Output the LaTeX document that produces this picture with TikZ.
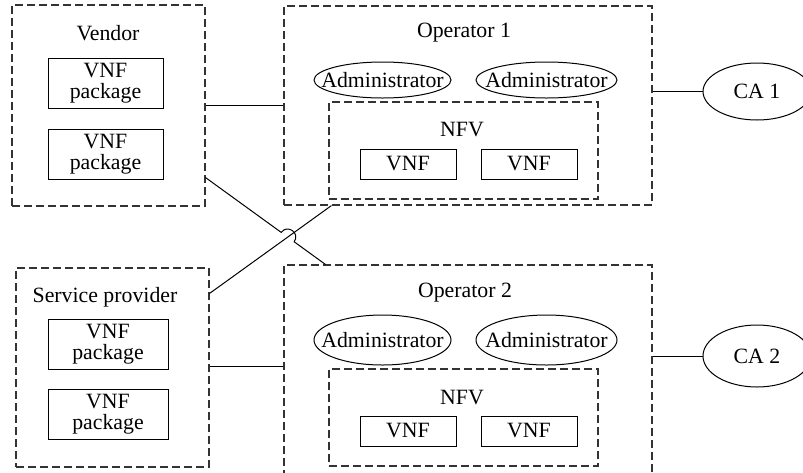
\documentclass[tikz,border=0pt]{standalone}
\usepackage{fontspec}
\setmainfont{Liberation Serif}
\usetikzlibrary{shapes.geometric,calc}
\begin{document}
\begin{tikzpicture}[x=0.5pt,y=-0.5pt,
  font=\fontsize{10.9}{12.6}\selectfont,
  dbox/.style={draw=black!80,line width=0.6pt,dash pattern=on 4pt off 2pt,rectangle,inner sep=0pt},
  sbox/.style={draw,line width=0.5pt,rectangle,inner sep=0pt,align=center},
  ell/.style={draw,line width=0.5pt,ellipse,inner sep=0pt},
  lbl/.style={inner sep=0pt},
  conn/.style={draw,line width=0.5pt}]
\useasboundingbox (0,0) rectangle (803,472);
% Vendor
\node[dbox,minimum width=96.5pt,minimum height=100.5pt] (vendor) at (108.5,105.5) {};
\node[lbl] (vendortxt) at (108,33) {Vendor};
\node[sbox,minimum width=57.5pt,minimum height=25pt] (vp1) at (105.5,83) {VNF\\[-2pt]package};
\node[sbox,minimum width=57.5pt,minimum height=25pt] (vp2) at (105.5,154) {VNF\\[-2pt]package};
% Operator 1
\node[dbox,minimum width=184pt,minimum height=99.5pt] (op1) at (468,105.5) {};
\node[lbl] (op1txt) at (464,33) {Operator 1};
\node[ell,minimum width=68.5pt,minimum height=18pt] (a11) at (382.5,80) {};
\node[lbl] (a11t) at (a11) {Administrator};
\node[ell,minimum width=70.5pt,minimum height=18pt] (a12) at (546.5,80) {};
\node[lbl] (a12t) at (a12) {Administrator};
\node[dbox,minimum width=134.5pt,minimum height=48.5pt] (nfv1) at (463.5,150.5) {};
\node[lbl] (nfv1txt) at (462,130) {NFV};
\node[sbox,minimum width=48pt,minimum height=15pt] (v11) at (408,164) {VNF};
\node[sbox,minimum width=48pt,minimum height=15pt] (v12) at (529,164) {VNF};
\node[ell,minimum width=54pt,minimum height=28.5pt] (ca1) at (757,91.5) {CA 1};
% Service provider
\node[dbox,minimum width=96.5pt,minimum height=99.5pt] (sp) at (112.5,367.5) {};
\node[lbl] (sptxt) at (105,297) {Service provider};
\node[sbox,minimum width=60pt,minimum height=25pt] (sp1) at (108,344) {VNF\\[-2pt]package};
\node[sbox,minimum width=60pt,minimum height=25pt] (sp2) at (108,414) {VNF\\[-2pt]package};
% Operator 2
\node[dbox,minimum width=184pt,minimum height=105.5pt] (op2) at (468,370.5) {};
\node[lbl] (op2txt) at (465,293) {Operator 2};
\node[ell,minimum width=68.5pt,minimum height=25pt] (a21) at (382.5,340) {};
\node[lbl] (a21t) at (a21) {Administrator};
\node[ell,minimum width=70.5pt,minimum height=25pt] (a22) at (546.5,340) {};
\node[lbl] (a22t) at (a22) {Administrator};
\node[dbox,minimum width=134.5pt,minimum height=48.5pt] (nfv2) at (463.5,417.5) {};
\node[lbl] (nfv2txt) at (462,398) {NFV};
\node[sbox,minimum width=48pt,minimum height=15pt] (v21) at (408,431) {VNF};
\node[sbox,minimum width=48pt,minimum height=15pt] (v22) at (529,431) {VNF};
\node[ell,minimum width=54pt,minimum height=31pt] (ca2) at (757,356) {CA 2};
% connectors
\draw[conn] (vendor.east) -- (op1.west);
\draw[conn] (sp.east |- 0,366) -- (op2.west |- 0,366);
\draw[conn] (ca1.west) -- (ca1.west -| op1.east);
\draw[conn] (ca2.west) -- (ca2.west -| op2.east);
% crossing lines
\coordinate (A1) at ($(vendor.south east)+(0,-29)$);
\coordinate (A2) at ($(op2.north west)+(42,0)$);
\coordinate (B1) at ($(sp.north east)+(0,26)$);
\coordinate (B2) at ($(op1.south west)+(48,0)$);
\coordinate (X) at (intersection of A1--A2 and B1--B2);
\coordinate (h1) at ($(X)!4pt!(A1)$);
\coordinate (h2) at ($(X)!4pt!(A2)$);
\coordinate (c1) at ($(h1)!5.33pt!90:(X)$);
\coordinate (c2) at ($(h2)!5.33pt!-90:(X)$);
\draw[conn] (B1) -- (B2);
\draw[conn] (A1) -- (h1) .. controls (c1) and (c2) .. (h2) -- (A2);
\end{tikzpicture}
\end{document}
